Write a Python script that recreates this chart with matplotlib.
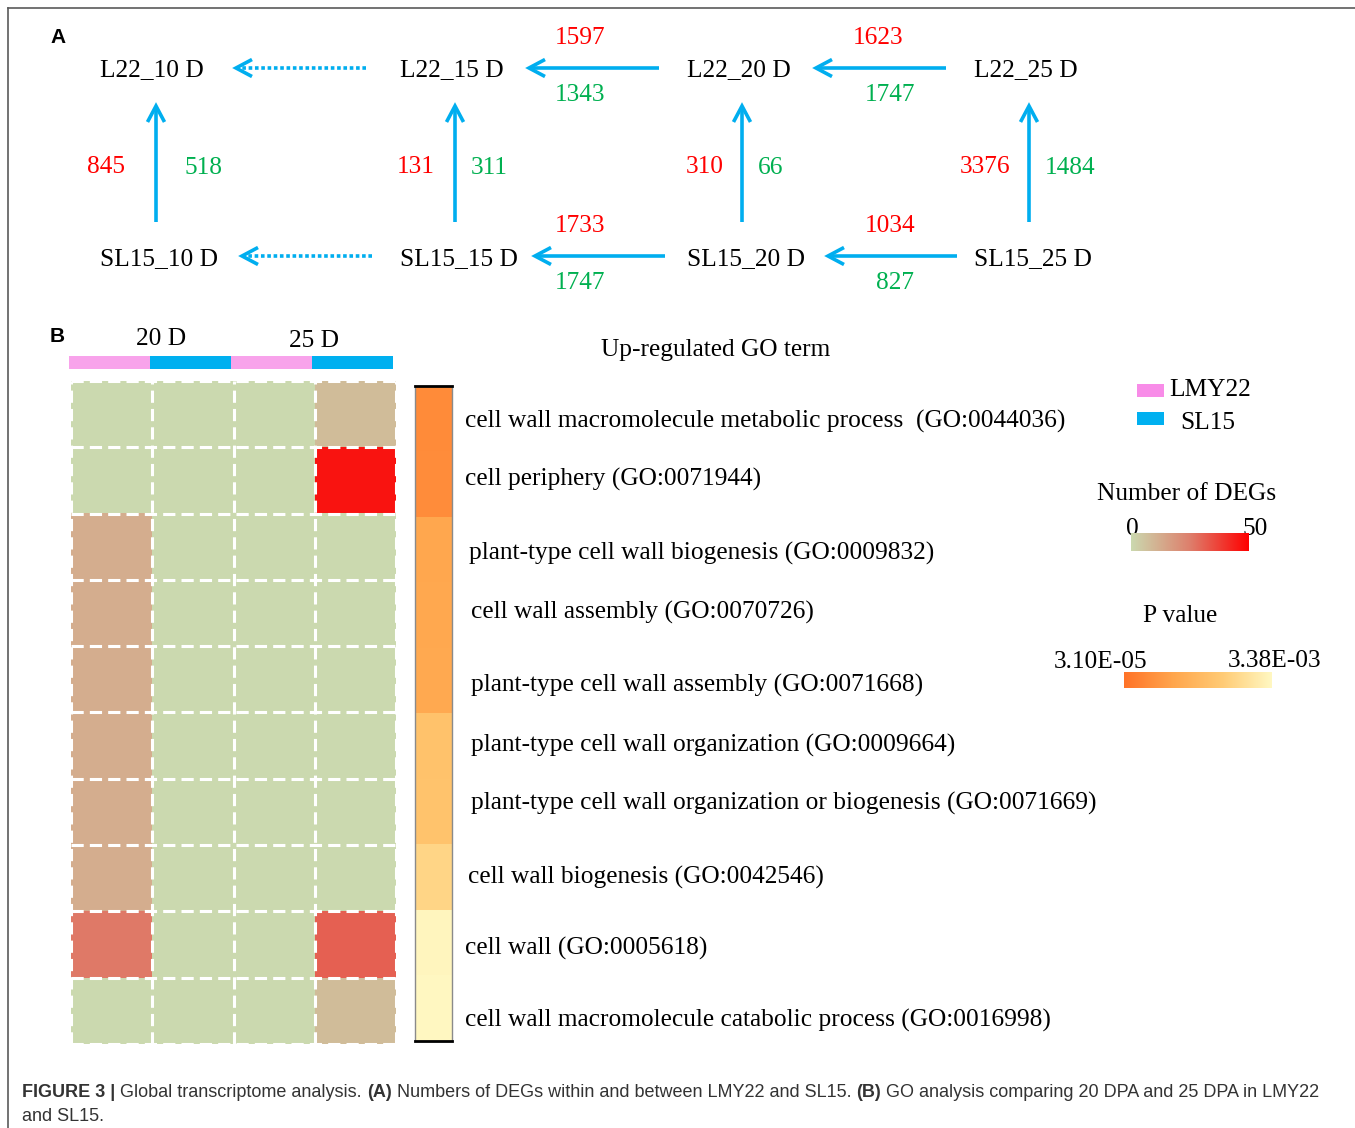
import numpy as np
import matplotlib
matplotlib.use("Agg")
import matplotlib.pyplot as plt
from matplotlib import font_manager
from matplotlib.colors import LinearSegmentedColormap, ListedColormap, LogNorm

# ---------------- panel A: numbers of DEGs ----------------
days = ["10 D", "15 D", "20 D", "25 D"]
lines = ["L22", "SL15"]
# comparisons along time, index i = day i+1 -> day i (first pair has no counts)
up_along = {"L22": [None, 1597, 1623], "SL15": [None, 1733, 1034]}
down_along = {"L22": [None, 1343, 1747], "SL15": [None, 1747, 827]}
# comparisons SL15 -> L22 at the same day
up_cross = [845, 131, 310, 3376]
down_cross = [518, 311, 66, 1484]

# ---------------- panel B: up-regulated GO terms ----------------
go_terms = [
    "cell wall macromolecule metabolic process  (GO:0044036)",
    "cell periphery (GO:0071944)",
    "plant-type cell wall biogenesis (GO:0009832)",
    "cell wall assembly (GO:0070726)",
    "plant-type cell wall assembly (GO:0071668)",
    "plant-type cell wall organization (GO:0009664)",
    "plant-type cell wall organization or biogenesis (GO:0071669)",
    "cell wall biogenesis (GO:0042546)",
    "cell wall (GO:0005618)",
    "cell wall macromolecule catabolic process (GO:0016998)",
]
stages = ["20 D", "25 D"]
cultivars = ["LMY22", "SL15"]
sample_cultivar = [0, 1, 0, 1]
# columns: LMY22 20D, SL15 20D, LMY22 25D, SL15 25D
deg_counts = np.array([
    [0, 0, 0, 8],
    [0, 0, 0, 46],
    [12, 0, 0, 0],
    [12, 0, 0, 0],
    [12, 0, 0, 0],
    [12, 0, 0, 0],
    [12, 0, 0, 0],
    [12, 0, 0, 0],
    [26, 0, 0, 31],
    [0, 0, 0, 8],
])
p_values = [6.5e-5, 6.9e-5, 1.6e-4, 1.65e-4, 1.7e-4, 4.9e-4, 5.1e-4, 1.0e-3, 3.1e-3, 3.3e-3]
deg_range = (0, 50)
p_range = (3.10e-5, 3.38e-3)

BLUE = "#00AEEF"
RED = "#FF0000"
GREEN = "#00B050"
PINK = "#F8A3EB"
CULT_BLUE = "#00B0F0"
deg_cmap = LinearSegmentedColormap.from_list("deg", ["#CBD9AF", "#DE7F6C", "#FF0000"])
p_cmap = LinearSegmentedColormap.from_list("pval", ["#FF7328", "#FFA64D", "#FFCB75", "#FFF8C2"])

plt.rcParams["font.family"] = ["Liberation Serif", "DejaVu Serif"]
FS = 18.3

W, H = 1355, 1128
fig = plt.figure(figsize=(W / 100, H / 100), dpi=100)
ax = fig.add_axes([0, 0, 1, 1])
ax.set_xlim(0, W)
ax.set_ylim(H, 0)
ax.axis("off")


def px_axes(x0, y0, x1, y1):
    """axes placed by pixel box (top-left origin)"""
    return fig.add_axes([x0 / W, 1 - y1 / H, (x1 - x0) / W, (y1 - y0) / H])


# outer frame (left and top rules)
ax.plot([8, 8], [H, 8], color="#5a5a5a", lw=1.2)
ax.plot([8, W], [8, 8], color="#5a5a5a", lw=1.2)

ax.text(50, 43, "A", fontsize=15, fontweight="bold", family="Liberation Sans", va="baseline")
ax.text(50, 342, "B", fontsize=15, fontweight="bold", family="Liberation Sans", va="baseline")


def arrow(x0, y0, x1, y1, dotted=False):
    d = np.array([x1 - x0, y1 - y0], float)
    d /= np.hypot(*d)
    n = np.array([-d[1], d[0]])
    tip = np.array([x1, y1], float)
    end = tip - 2 * d
    ls = (0, (1.0, 0.75)) if dotted else "-"
    ax.plot([x0, end[0]], [y0, end[1]], color=BLUE, lw=2.6, ls=ls,
            solid_capstyle="butt", dash_capstyle="butt")
    back = tip - 16 * d
    a1, a2 = back + 8.5 * n, back - 8.5 * n
    ax.plot([a1[0], tip[0], a2[0]], [a1[1], tip[1], a2[1]], color=BLUE, lw=2.6,
            solid_joinstyle="miter", solid_capstyle="butt")


# node layout
node_x = [100, 400, 687, 974]
row_base = {"L22": 76, "SL15": 265}
row_arrow_y = {"L22": 68, "SL15": 256}
h_tip = {"L22": [236, 529, 816], "SL15": [242, 535, 828]}
h_tail = {"L22": [366, 659, 946], "SL15": [372, 665, 957]}
up_x = {"L22": [None, 580, 878], "SL15": [None, 580, 890]}
down_x = {"L22": [None, 580, 890], "SL15": [None, 580, 895]}
v_x = [156, 455, 742, 1029]
gap_left = [31, 20, 18, 19]
gap_right = [28, 16, 16, 16]

for line in lines:
    for i, day in enumerate(days):
        ax.text(node_x[i], row_base[line], f"{line}_{day}", fontsize=FS, va="baseline", ha="left")
    y = row_arrow_y[line]
    for i in range(3):
        arrow(h_tail[line][i], y, h_tip[line][i], y, dotted=up_along[line][i] is None)
        if up_along[line][i] is not None:
            ax.text(up_x[line][i], y - 24, str(up_along[line][i]), color=RED,
                    fontsize=FS, ha="center", va="baseline")
            ax.text(down_x[line][i], y + 33, str(down_along[line][i]), color=GREEN,
                    fontsize=FS, ha="center", va="baseline")

for i, x in enumerate(v_x):
    arrow(x, 222, x, 106)
    ax.text(x - gap_left[i], 173, str(up_cross[i]), color=RED, fontsize=FS,
            ha="right", va="baseline")
    ax.text(x + gap_right[i], 174, str(down_cross[i]), color=GREEN, fontsize=FS,
            ha="left", va="baseline")

# ---------------- heatmap ----------------
n_rows, n_cols = deg_counts.shape
hm = px_axes(71, 381, 396, 1044)
hm.imshow(deg_counts, cmap=deg_cmap, vmin=deg_range[0], vmax=deg_range[1],
          aspect="auto", interpolation="nearest")
dash = dict(color="white", lw=2.2, ls=(0, (4, 2)), clip_on=False, dash_capstyle="butt")
for c in np.arange(-0.5, n_cols + 0.5):
    hm.axvline(c, **dash)
for r in np.arange(-0.5, n_rows + 0.5):
    hm.axhline(r, **dash)
hm.set_xlim(-0.5, n_cols - 0.5)
hm.set_ylim(n_rows - 0.5, -0.5)
hm.axis("off")

# sample header strip
hdr = px_axes(69, 356, 393, 369)
hdr.imshow(np.array([sample_cultivar]), cmap=ListedColormap([PINK, CULT_BLUE]),
           aspect="auto", interpolation="nearest")
hdr.axis("off")
ax.text(161, 345, stages[0], fontsize=FS, ha="center", va="baseline")
ax.text(314, 347, stages[1], fontsize=FS, ha="center", va="baseline")

# p value strip
pnorm = LogNorm(*p_range)
pb = px_axes(415, 386, 452, 1041)
pb.imshow(np.array(p_values)[:, None], cmap=p_cmap, norm=pnorm, aspect="auto",
          interpolation="nearest")
pb.set_xticks([])
pb.set_yticks([])
for side in ("left", "right"):
    pb.spines[side].set_color("#8a8a8a")
    pb.spines[side].set_linewidth(1.0)
for side in ("top", "bottom"):
    pb.spines[side].set_color("black")
    pb.spines[side].set_linewidth(2.0)

ax.text(716, 356, "Up-regulated GO term", fontsize=FS, ha="center", va="baseline")
go_x = [465, 465, 469, 471, 471, 471, 471, 468, 465, 465]
go_y = [428, 486, 560, 619, 692, 752, 810, 884, 955, 1027]
for term, x, y in zip(go_terms, go_x, go_y):
    ax.text(x, y, term, fontsize=FS, ha="left", va="baseline")

# cultivar legend
ax.add_patch(plt.Rectangle((1137, 384), 27, 13, color="#F88CE8", lw=0))
ax.add_patch(plt.Rectangle((1137, 412), 27, 13, color=CULT_BLUE, lw=0))
ax.text(1169, 396, cultivars[0], fontsize=FS, va="baseline")
ax.text(1180, 429, cultivars[1], fontsize=FS, va="baseline")

# DEG colour key
ax.text(1187, 500, "Number of DEGs", fontsize=FS, ha="center", va="baseline")
dk = px_axes(1131, 533, 1249, 551)
dk.imshow(np.linspace(*deg_range, 256)[None, :], cmap=deg_cmap, vmin=deg_range[0],
          vmax=deg_range[1], aspect="auto")
dk.axis("off")
ax.text(1132, 535, f"{deg_range[0]}", fontsize=FS, ha="center", va="baseline")
ax.text(1255, 535, f"{deg_range[1]}", fontsize=FS, ha="center", va="baseline")

# p value colour key
ax.text(1180, 622, "P value", fontsize=FS, ha="center", va="baseline")
pk = px_axes(1124, 672, 1272, 688)
pk.imshow(np.geomspace(*p_range, 256)[None, :], cmap=p_cmap, norm=pnorm, aspect="auto")
pk.axis("off")
ax.text(1101, 668, f"{p_range[0]:.2E}", fontsize=FS, ha="center", va="baseline")
ax.text(1275, 667, f"{p_range[1]:.2E}", fontsize=FS, ha="center", va="baseline")

# ---------------- caption ----------------
names = {f.name for f in font_manager.fontManager.ttflist}
cap_font = "Liberation Sans Narrow" if "Liberation Sans Narrow" in names else "Liberation Sans"
cap1 = [("FIGURE 3 | ", "bold"), ("Global transcriptome analysis. ", "normal"), ("(A)", "bold"),
        (" Numbers of DEGs within and between LMY22 and SL15. ", "normal"), ("(B)", "bold"),
        (" GO analysis comparing 20 DPA and 25 DPA in LMY22", "normal")]
cap2 = [("and SL15.", "normal")]
renderer = fig.canvas.get_renderer()


def caption_line(parts, x, y, size):
    drawn = []
    for txt, wt in parts:
        t = ax.text(x, y, txt, fontsize=size, fontweight=wt, family=cap_font,
                    color="#333333", va="baseline", ha="left")
        drawn.append(t)
        x = t.get_window_extent(renderer).x1
    return drawn, x


tmp, end = caption_line(cap1, 22, 1097, 12)
for t in tmp:
    t.remove()
cap_size = 12 * (1323 - 22) / (end - 22)
caption_line(cap1, 22, 1097, cap_size)
caption_line(cap2, 22, 1121, cap_size)

fig.savefig("out.png", dpi=100)
